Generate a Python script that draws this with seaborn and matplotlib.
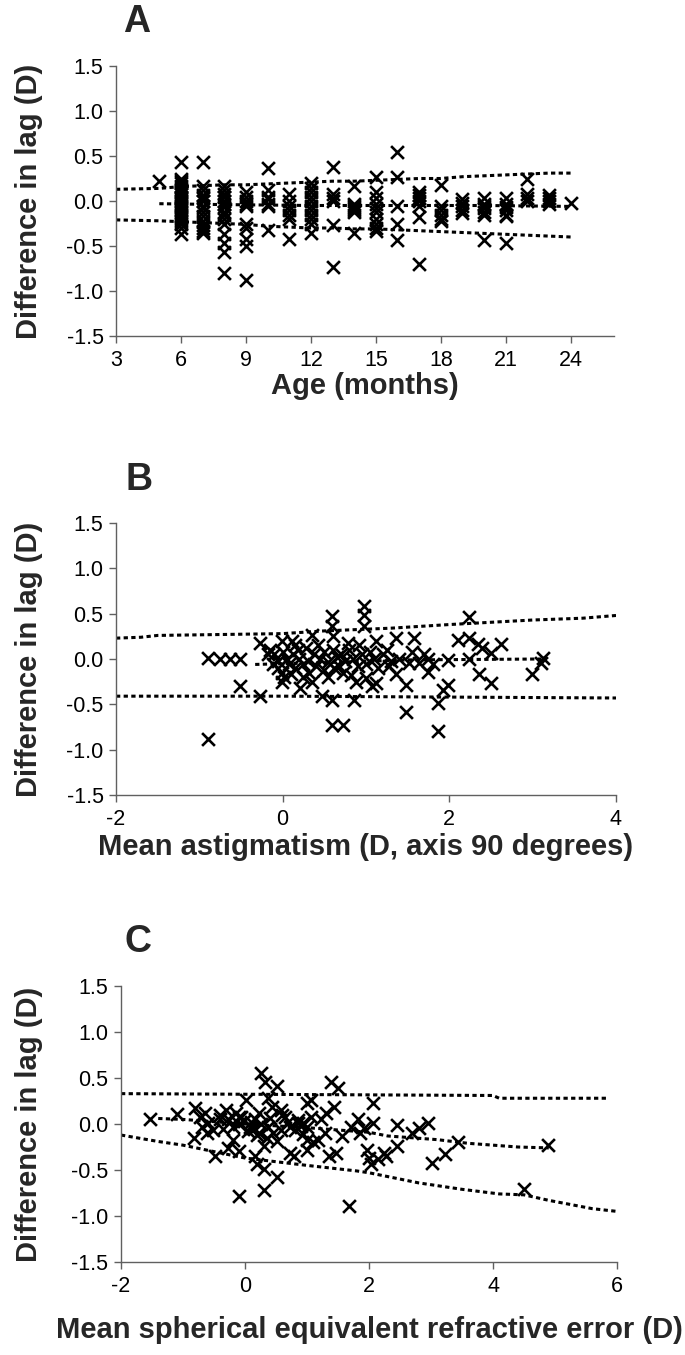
import matplotlib
matplotlib.use("Agg")
import matplotlib.pyplot as plt
import seaborn as sns
import pandas as pd

# ---- panel A: age vs difference in lag ----
a_age = [5,
         6, 6, 6, 6, 6, 6, 6, 6, 6, 6, 6, 6, 6, 6, 6, 6, 6, 6, 6, 6, 6, 6, 6, 6,
         7, 7, 7, 7, 7, 7, 7, 7, 7, 7, 7, 7, 7, 7, 7,
         8, 8, 8, 8, 8, 8, 8, 8, 8, 8, 8, 8, 8, 8, 8,
         9, 9, 9, 9, 9, 9, 9, 9, 9, 9,
         10, 10, 10, 10, 10, 10, 10,
         11, 11, 11, 11, 11, 11, 11,
         12, 12, 12, 12, 12, 12, 12, 12, 12, 12, 12,
         13, 13, 13, 13, 13, 13,
         14, 14, 14, 14, 14, 14, 14,
         15, 15, 15, 15, 15, 15, 15, 15, 15, 15,
         16, 16, 16, 16, 16,
         17, 17, 17, 17, 17, 17, 17,
         18, 18, 18, 18, 18, 18,
         19, 19, 19, 19, 19,
         20, 20, 20, 20, 20, 20, 20,
         21, 21, 21, 21, 21, 21, 21,
         22, 22, 22, 22,
         23, 23, 23, 23,
         24]
a_lag = [0.22,
         0.43, 0.25, 0.22, 0.20, 0.17, 0.15, 0.12, 0.10, 0.08, 0.05, 0.03, 0.00, -0.02, -0.05, -0.07, -0.10, -0.12, -0.15, -0.17, -0.20, -0.22, -0.25, -0.30, -0.37,
         0.43, 0.17, 0.12, 0.07, 0.03, 0.00, -0.05, -0.08, -0.12, -0.17, -0.22, -0.27, -0.30, -0.33, -0.35,
         0.17, 0.12, 0.08, 0.05, 0.00, -0.03, -0.07, -0.12, -0.15, -0.20, -0.25, -0.37, -0.47, -0.57, -0.80,
         0.10, 0.05, 0.00, -0.03, -0.05, -0.25, -0.30, -0.42, -0.50, -0.88,
         0.37, 0.12, 0.05, 0.02, -0.03, -0.05, -0.32,
         0.08, 0.00, -0.05, -0.10, -0.15, -0.20, -0.42,
         0.20, 0.15, 0.10, 0.05, 0.00, -0.05, -0.10, -0.15, -0.20, -0.25, -0.35,
         0.38, 0.08, 0.03, 0.00, -0.27, -0.73,
         0.17, -0.03, -0.05, -0.08, -0.10, -0.12, -0.35,
         0.27, 0.10, 0.03, -0.03, -0.08, -0.12, -0.20, -0.25, -0.30, -0.33,
         0.55, 0.27, -0.05, -0.25, -0.43,
         0.10, 0.07, 0.03, 0.00, -0.05, -0.18, -0.70,
         0.18, -0.05, -0.10, -0.15, -0.20, -0.22,
         0.02, -0.02, -0.05, -0.10, -0.13,
         0.03, -0.03, -0.05, -0.08, -0.12, -0.15, -0.43,
         0.03, -0.03, -0.07, -0.10, -0.15, -0.17, -0.47,
         0.25, 0.08, 0.03, 0.00,
         0.07, 0.03, 0.00, -0.03,
         -0.02]
a_band_x = [3, 5, 6, 7, 8, 9, 10, 11, 12, 13, 14, 15, 16, 17, 18, 19, 20, 21, 22, 23, 24]
a_upper = [0.13, 0.14, 0.16, 0.17, 0.18, 0.18, 0.19, 0.20, 0.21, 0.22, 0.22, 0.23, 0.24, 0.25, 0.25, 0.27, 0.28, 0.29, 0.30, 0.31, 0.31]
a_lower = [-0.21, -0.22, -0.23, -0.24, -0.25, -0.26, -0.28, -0.29, -0.30, -0.30, -0.31, -0.31, -0.32, -0.33, -0.34, -0.35, -0.36, -0.37, -0.38, -0.39, -0.40]
a_mid_x = [5, 8, 12, 16, 20, 24]
a_mid = [-0.03, -0.04, -0.05, -0.05, -0.05, -0.06]

# ---- panel B: mean astigmatism ----
b_astig = [-0.89, -0.75, -0.63, -0.51, -0.89, -0.51, -0.27, -0.27, -0.17, -0.15, -0.01, 0.11, 0.35, 0.59, 0.59,
           0.47, 0.59, 0.59, -0.01, -0.01, 0.21, 0.10,
           -0.10, -0.05, 0.00, 0.05, 0.08, 0.12, 0.15, 0.18, 0.20, 0.25, 0.28, 0.30, 0.32, 0.38, 0.40,
           0.42, 0.45, 0.50, 0.50, 0.55, 0.55, 0.60, 0.62, 0.65, -0.05, 0.02, 0.15, 0.35, 0.25, -0.12,
           0.98, 0.98, 0.98, 0.61, 1.36, 1.58, 2.24, 2.24, 2.10, 2.34, 2.62, 2.50, 2.39, 3.12, 3.10,
           2.99, 2.36, 2.50, 2.24, 1.98, 1.98, 1.92, 1.86, 1.86, 1.48, 1.48, 1.74, 1.74, 1.64, 1.28,
           1.36, 1.12, 1.12, 0.86, 0.73, 1.07, 1.00, 1.52, 1.40,
           0.70, 0.75, 0.80, 0.85, 0.90, 0.95, 1.00, 1.05, 0.72, 0.82, 0.92, 0.68, 1.10, 0.88, 1.15,
           1.20, 1.25, 0.78, 1.30, 1.70, 1.80, 1.55]
b_lag = [0.01, 0.00, 0.00, 0.00, -0.88, -0.30, 0.18, -0.41, 0.05, 0.10, 0.20, 0.20, 0.26, 0.47, 0.36,
         -0.41, -0.45, -0.73, -0.15, -0.25, -0.32, -0.17,
         0.05, -0.02, 0.08, 0.00, -0.05, 0.05, -0.10, 0.10, 0.00, -0.05, 0.12, -0.02, -0.15, 0.05, -0.08,
         0.15, 0.00, -0.12, 0.08, -0.03, -0.20, 0.10, -0.10, 0.02, -0.10, -0.20, 0.15, -0.25, -0.20, -0.05,
         0.58, 0.49, 0.36, 0.25, 0.23, 0.23, 0.46, 0.23, 0.21, 0.16, 0.16, 0.07, 0.12, 0.01, -0.04,
         -0.17, -0.16, -0.27, 0.00, -0.01, -0.29, -0.34, -0.49, -0.79, -0.58, -0.29, 0.00, -0.14, -0.04, -0.08,
         -0.17, 0.20, -0.27, -0.45, -0.73, -0.30, -0.21, -0.04, 0.00,
         0.05, -0.02, 0.10, 0.00, -0.08, 0.05, -0.05, 0.08, -0.15, -0.18, 0.15, -0.08, 0.00, -0.25, -0.10,
         0.05, 0.10, 0.18, -0.02, 0.05, -0.05, 0.08]
b_upper_x = [-2.0, -1.7, -1.5, 0.0, 0.5, 1.3, 2.0, 3.0, 3.6, 4.0]
b_upper = [0.23, 0.24, 0.26, 0.28, 0.31, 0.34, 0.38, 0.43, 0.45, 0.48]
b_mid_x = [-0.33, 0.5, 1.5, 3.1]
b_mid = [-0.06, -0.04, -0.01, 0.00]
b_lower_x = [-2.0, 0.0, 2.0, 4.0]
b_lower = [-0.41, -0.41, -0.42, -0.43]

# ---- panel C: mean spherical equivalent ----
c_se = [-1.54, -1.10, -0.80, -0.73, -0.83, -0.48, -0.27, -0.09, -0.09, 0.16, 0.26, 0.33, 0.51, 0.30,
        0.51, 0.30, 0.19, 1.39, 1.50, 1.07, 2.07, 1.68, 4.50, 4.88, 3.44, 3.23, 3.02, 2.95, 2.81, 2.70,
        2.45, 2.45, 2.24, 2.14, 2.03, 2.00, 1.96, 2.07, 1.92, 1.82, 1.71, 1.57, 1.46, 1.36, 1.43, 1.22,
        1.29, 1.18, 1.00, 1.00, 0.93, 0.86, 0.79, 0.72, 0.58, 0.51, 0.44, 0.37, 0.23, 0.01, -0.06, 0.08,
        -0.20, -0.30, -0.41, -0.52, -0.59, -0.62, -0.20, 0.23, 0.37, 0.65, 0.72, 0.93, 1.07, 0.30, 0.12,
        -0.02, -0.09, 0.16, -0.27, 0.58, 1.00, 1.00, 1.85, 2.28, -0.69, -0.65, -0.40, -0.35, -0.15,
        0.05, 0.10, 0.20, 0.25, 0.40, 0.45, 0.60, 0.80, 0.85, 1.10, 1.30, -0.10, 0.15, 0.35, 0.70, 0.90]
c_lag = [0.05, 0.11, 0.17, 0.08, -0.15, -0.35, -0.26, -0.29, -0.78, -0.35, 0.55, 0.46, 0.41, -0.72,
         -0.58, -0.49, -0.44, 0.46, 0.39, 0.26, 0.23, -0.89, -0.71, -0.23, -0.20, -0.33, -0.42, 0.01, -0.04, -0.10,
         -0.01, -0.24, -0.31, -0.38, -0.43, -0.37, -0.28, 0.01, -0.04, 0.05, -0.03, -0.13, -0.31, -0.35, 0.19, 0.05,
         -0.10, -0.17, -0.17, -0.28, -0.11, 0.01, -0.35, -0.31, -0.06, -0.19, 0.19, 0.28, 0.12, 0.26, 0.08, -0.03,
         -0.03, 0.15, 0.05, -0.06, 0.01, -0.10, -0.17, -0.10, -0.03, 0.08, -0.03, 0.01, 0.08, -0.24, -0.04,
         0.03, 0.08, 0.05, 0.05, 0.15, 0.23, -0.03, -0.10, -0.35, -0.03, 0.12, 0.10, -0.05, 0.12,
         -0.08, 0.02, -0.12, 0.00, 0.06, -0.10, 0.10, -0.06, 0.04, -0.20, 0.12, 0.00, -0.05, -0.15, 0.02, -0.02]
c_upper_x = [-2.0, 1.0, 4.0, 4.1, 5.85]
c_upper = [0.33, 0.32, 0.31, 0.28, 0.28]
c_mid_x = [-1.4, -1.0, 0.0, 1.0, 2.0, 2.3, 2.7, 3.1, 3.6, 4.0, 4.4, 4.9]
c_mid = [0.06, 0.05, 0.00, -0.04, -0.09, -0.13, -0.15, -0.17, -0.21, -0.23, -0.25, -0.26]
c_lower_x = [-2.0, -1.4, -1.0, 0.0, 1.0, 1.8, 2.0, 2.8, 3.5, 4.1, 4.5, 4.9, 5.6, 6.0]
c_lower = [-0.12, -0.19, -0.23, -0.37, -0.45, -0.51, -0.53, -0.64, -0.71, -0.76, -0.77, -0.83, -0.92, -0.95]

y_ticks = [-1.5, -1.0, -0.5, 0.0, 0.5, 1.0, 1.5]

sns.set_style("ticks")
plt.rcParams["font.family"] = ["Liberation Sans", "DejaVu Sans"]

W, H = 685, 1355
fig = plt.figure(figsize=(W / 100, H / 100), dpi=100)

DOT = (0, (1.4, 1.1))
GREY = "#606060"


def px_axes(left, right, top, bottom):
    return fig.add_axes([left / W, 1 - bottom / H, (right - left) / W, (bottom - top) / H])


def style_axes(ax, xlim, xticks, xlabel):
    ax.set_xlim(*xlim)
    ax.set_ylim(-1.5, 1.5)
    ax.set_xticks(xticks)
    ax.set_xticklabels([str(t) for t in xticks])
    ax.set_yticks(y_ticks)
    ax.set_yticklabels([f"{t:.1f}" for t in y_ticks])
    sns.despine(ax=ax)
    for side in ["left", "bottom"]:
        ax.spines[side].set_color(GREY)
        ax.spines[side].set_linewidth(1.0)
    ax.tick_params(colors=GREY, labelcolor="black", labelsize=15.5, length=5, width=1.0)
    ax.tick_params(axis="y", pad=4)
    ax.tick_params(axis="x", pad=5)
    ax.set_xlabel(xlabel, fontsize=21, fontweight="bold")
    ax.set_ylabel("Difference in lag (D)", fontsize=21, fontweight="bold")
    ax.yaxis.label.set_va("center")
    ax.xaxis.label.set_va("center")


def draw_lines(ax, pairs):
    for xs, ys in pairs:
        sns.lineplot(x=xs, y=ys, ax=ax, color="black", lw=2.2, linestyle=DOT,
                     sort=False, estimator=None)


def draw_points(ax, xs, ys):
    df = pd.DataFrame({"x": xs, "y": ys})
    sns.scatterplot(data=df, x="x", y="y", ax=ax, marker="x", color="black",
                    s=85, linewidth=1.9, zorder=3)


# Panel A
ax_a = px_axes(116, 614, 66, 336)
draw_lines(ax_a, [(a_band_x, a_upper), (a_band_x, a_lower), (a_mid_x, a_mid)])
draw_points(ax_a, a_age, a_lag)
style_axes(ax_a, (3, 26), [3, 6, 9, 12, 15, 18, 21, 24], "Age (months)")
ax_a.yaxis.set_label_coords((29 - 116) / 498, 0.5)
ax_a.xaxis.set_label_coords(0.5, -50 / 270)

# Panel B
ax_b = px_axes(116, 616, 523, 795)
draw_lines(ax_b, [(b_upper_x, b_upper), (b_mid_x, b_mid), (b_lower_x, b_lower)])
draw_points(ax_b, b_astig, b_lag)
style_axes(ax_b, (-2, 4), [-2, 0, 2, 4], "Mean astigmatism (D, axis 90 degrees)")
ax_b.yaxis.set_label_coords((29 - 116) / 500, 0.5)
ax_b.xaxis.set_label_coords(0.5, -52 / 272)

# Panel C
ax_c = px_axes(121, 617, 986, 1262)
draw_lines(ax_c, [(c_upper_x, c_upper), (c_mid_x, c_mid), (c_lower_x, c_lower)])
draw_points(ax_c, c_se, c_lag)
style_axes(ax_c, (-2, 6), [-2, 0, 2, 4, 6], "Mean spherical equivalent refractive error (D)")
ax_c.yaxis.set_label_coords((29 - 121) / 496, 0.5)
ax_c.xaxis.set_label_coords(0.5, -68 / 276)

for letter, (px, py) in {"A": (137, 22), "B": (139, 480), "C": (138, 942)}.items():
    fig.text(px / W, 1 - py / H, letter, fontsize=27, fontweight="bold", ha="center", va="center")

fig.savefig("out.png", dpi=100, facecolor="white")
